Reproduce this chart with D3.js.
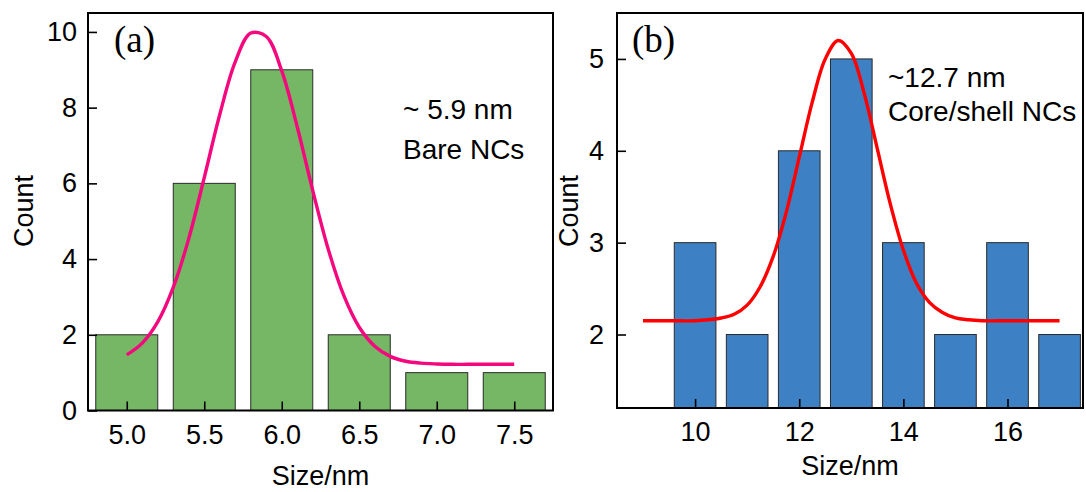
<!DOCTYPE html>
<html lang="en">
<head>
    <meta charset="UTF-8">
    <title>Size distribution</title>
    <script src="https://cdn.jsdelivr.net/npm/d3@7"></script>
    <style>
        body { margin: 0; background: #fff; }
        text { font-family: "Liberation Sans", Arial, sans-serif; fill: #000; }
    </style>
</head>
<body>
<script>
    // panel (a): bare NCs
    var sizesA = [5.0, 5.5, 6.0, 6.5, 7.0, 7.5];
    var countsA = [2, 6, 9, 2, 1, 1];
    var fitXA = [5.0, 5.1, 5.2, 5.3, 5.4, 5.5, 5.6, 5.7, 5.8, 5.9, 6.0, 6.1, 6.2, 6.3, 6.4, 6.5, 6.6, 6.7, 6.8, 6.9, 7.0, 7.1, 7.2, 7.3, 7.4, 7.5];
    var fitYA = [1.47, 1.78, 2.34, 3.25, 4.54, 6.15, 7.82, 9.21, 9.97, 9.88, 8.97, 7.49, 5.81, 4.26, 3.04, 2.20, 1.70, 1.43, 1.30, 1.25, 1.23, 1.22, 1.22, 1.22, 1.22, 1.22];
    var xTicksA = [5.0, 5.5, 6.0, 6.5, 7.0, 7.5];
    var yTicksA = [0, 2, 4, 6, 8, 10];

    // panel (b): core/shell NCs
    var sizesB = [10, 11, 12, 13, 14, 15, 16, 17];
    var countsB = [3, 2, 4, 5, 3, 2, 3, 2];
    var fitXB = [9.0, 9.5, 10.0, 10.25, 10.5, 10.75, 11.0, 11.25, 11.5, 11.75, 12.0, 12.25, 12.5, 12.75, 13.0, 13.25, 13.5, 13.75, 14.0, 14.25, 14.5, 14.75, 15.0, 15.25, 15.5, 16.0, 16.5, 17.0];
    var fitYB = [2.15, 2.15, 2.15, 2.16, 2.18, 2.22, 2.32, 2.52, 2.85, 3.33, 3.93, 4.53, 5.00, 5.20, 5.06, 4.62, 4.02, 3.42, 2.92, 2.56, 2.35, 2.24, 2.18, 2.16, 2.15, 2.15, 2.15, 2.15];
    var xTicksB = [10, 12, 14, 16];
    var yTicksB = [2, 3, 4, 5];

    var svg = d3.select("body").append("svg").attr("width", 1086).attr("height", 492);

    function panel(o) {
        var x = d3.scaleLinear().domain(o.xDomain).range([o.left, o.right]);
        var y = d3.scaleLinear().domain(o.yDomain).range([o.bottom, o.top]);
        var g = svg.append("g");

        // bars
        g.selectAll("rect.bar")
            .data(o.sizes)
            .enter()
            .append("rect")
            .attr("class", "bar")
            .attr("x", function (d) { return x(d - o.barW / 2); })
            .attr("width", function (d) { return x(d + o.barW / 2) - x(d - o.barW / 2); })
            .attr("y", function (d, i) { return y(o.counts[i]); })
            .attr("height", function (d, i) { return o.bottom - y(o.counts[i]); })
            .attr("fill", o.fill)
            .attr("stroke", "#2b2b2b")
            .attr("stroke-width", 1);

        // axes, ticks pointing inward
        var xAxis = d3.axisBottom(x).tickValues(o.xTicks).tickSizeInner(-9).tickSizeOuter(0)
            .tickPadding(14).tickFormat(o.xFormat);
        var yAxis = d3.axisLeft(y).tickValues(o.yTicks).tickSizeInner(-9).tickSizeOuter(0)
            .tickPadding(o.yPad).tickFormat(d3.format("d"));

        var gx = g.append("g").attr("transform", "translate(0," + o.bottom + ")").call(xAxis);
        var gy = g.append("g").attr("transform", "translate(" + o.left + ",0)").call(yAxis);
        [gx, gy].forEach(function (a) {
            a.select(".domain").remove();
            a.selectAll(".tick line").attr("stroke", "#000").attr("stroke-width", 1.6);
            a.selectAll(".tick text")
                .style("font-family", "'Liberation Sans', Arial, sans-serif")
                .style("font-size", "27px")
                .attr("fill", "#000");
        });

        // fit curve
        var line = d3.line()
            .x(function (d) { return x(d[0]); })
            .y(function (d) { return y(d[1]); })
            .curve(d3.curveCatmullRom);
        g.append("path")
            .datum(o.fitX.map(function (v, i) { return [v, o.fitY[i]]; }))
            .attr("d", line)
            .attr("fill", "none")
            .attr("stroke", o.lineColor)
            .attr("stroke-width", 3.4);

        // frame
        g.append("rect")
            .attr("x", o.left).attr("y", o.top)
            .attr("width", o.right - o.left).attr("height", o.bottom - o.top)
            .attr("fill", "none").attr("stroke", "#000").attr("stroke-width", 2);

        // labels
        g.append("text")
            .attr("x", o.letterX).attr("y", 52)
            .style("font-family", "'Liberation Serif', 'Times New Roman', serif")
            .style("font-size", "37px")
            .text(o.letter);

        o.notes.forEach(function (t, i) {
            g.append("text")
                .attr("x", o.noteX).attr("y", o.noteY + i * o.noteGap)
                .style("font-size", "28px")
                .text(t);
        });

        g.append("text")
            .attr("x", (o.left + o.right) / 2).attr("y", o.xLabelY)
            .attr("text-anchor", "middle")
            .style("font-size", "27px")
            .text("Size/nm");

        g.append("text")
            .attr("transform", "translate(" + o.yLabelX + "," + 211 + ") rotate(-90)")
            .attr("text-anchor", "middle")
            .style("font-size", "27px")
            .text("Count");
    }

    panel({
        sizes: sizesA, counts: countsA, fitX: fitXA, fitY: fitYA,
        xTicks: xTicksA, yTicks: yTicksA, xFormat: d3.format(".1f"),
        xDomain: [4.75, 7.75], yDomain: [0, 10.5],
        left: 88, right: 553, top: 13, bottom: 410.5,
        barW: 0.4, fill: "#76b765", lineColor: "#f5087e",
        yPad: 11, letter: "(a)", letterX: 114,
        notes: ["~ 5.9 nm", "Bare NCs"], noteX: 403, noteY: 119, noteGap: 40,
        xLabelY: 485, yLabelX: 33
    });

    panel({
        sizes: sizesB, counts: countsB, fitX: fitXB, fitY: fitYB,
        xTicks: xTicksB, yTicks: yTicksB, xFormat: d3.format("d"),
        xDomain: [8.5, 17.45], yDomain: [1.2, 5.5],
        left: 617, right: 1083, top: 13, bottom: 408,
        barW: 0.8, fill: "#3d80c4", lineColor: "#ff0000",
        yPad: 13, letter: "(b)", letterX: 632,
        notes: ["~12.7 nm", "Core/shell NCs"], noteX: 888, noteY: 87, noteGap: 34,
        xLabelY: 475, yLabelX: 578
    });
</script>
</body>
</html>
